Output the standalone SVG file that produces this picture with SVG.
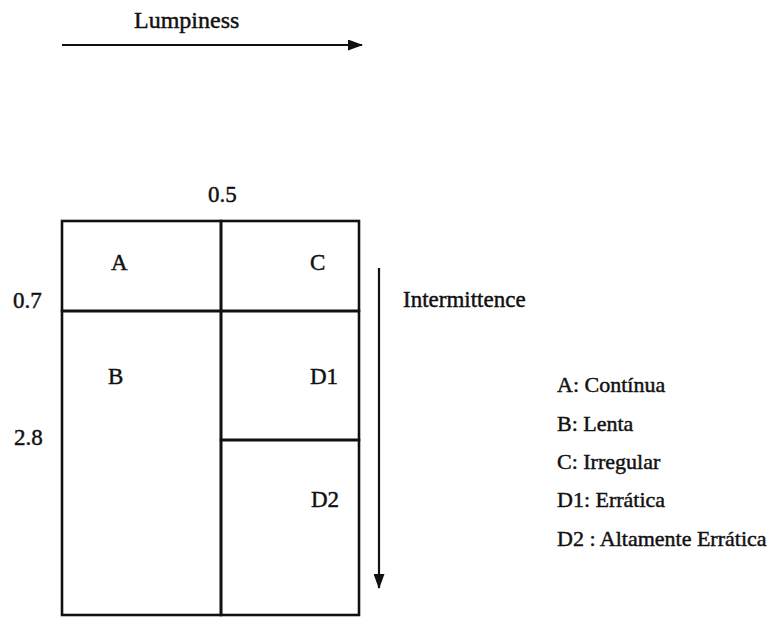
<svg xmlns="http://www.w3.org/2000/svg" width="773" height="617" viewBox="0 0 773 617">
<style>
text{font-family:"Liberation Serif","Times New Roman",serif;font-size:23px;fill:#111;stroke:#111;stroke-width:0.45;}
.legend text{font-size:22px;}
.cell{fill:none;stroke:#111;stroke-width:2.6;}
.axis{stroke:#111;stroke-width:2.2;fill:none;}
</style>
<defs>
<marker id="ah" viewBox="0 0 15 11" refX="14" refY="5.5" markerWidth="15" markerHeight="11" markerUnits="userSpaceOnUse" orient="auto">
<path d="M0,0 L15,5.5 L0,11 Z" fill="#111"/>
</marker>
</defs>
<rect width="773" height="617" fill="#fff"/>
<g id="connectors">
<line class="axis" x1="62" y1="45" x2="362" y2="45" marker-end="url(#ah)"/>
<line class="axis" x1="379" y1="268" x2="379" y2="588" marker-end="url(#ah)"/>
</g>
<g id="axis-labels">
<text x="134" y="28" style="font-size:24px">Lumpiness</text>
<text x="403" y="307">Intermittence</text>
<text x="208" y="202">0.5</text>
<text x="13" y="308">0.7</text>
<text x="14" y="445">2.8</text>
</g>
<g id="cell-A"><rect class="cell" x="62" y="221" width="159" height="90"/><text x="111" y="270">A</text></g>
<g id="cell-C"><rect class="cell" x="221" y="221" width="138" height="90"/><text x="310" y="270">C</text></g>
<g id="cell-B"><rect class="cell" x="62" y="311" width="159" height="304"/><text x="108" y="384">B</text></g>
<g id="cell-D1"><rect class="cell" x="221" y="311" width="138" height="129"/><text x="310" y="384">D1</text></g>
<g id="cell-D2"><rect class="cell" x="221" y="440" width="138" height="175"/><text x="311" y="507">D2</text></g>
<g id="legend" class="legend">
<text x="557" y="392">A: Contínua</text>
<text x="557" y="431">B: Lenta</text>
<text x="557" y="469">C: Irregular</text>
<text x="557" y="507">D1: Errática</text>
<text x="557" y="546">D2 : Altamente Errática</text>
</g>
</svg>
